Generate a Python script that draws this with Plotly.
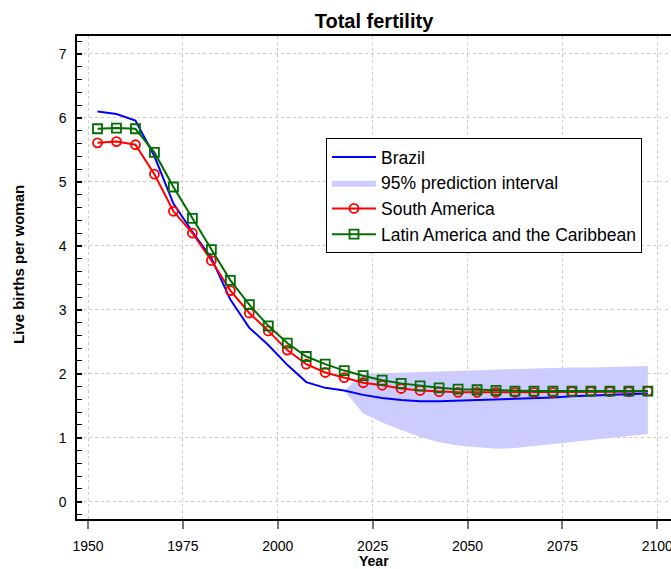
import plotly.graph_objects as go

years = [1952.5 + 5 * i for i in range(30)]

brazil = [6.10, 6.06, 5.96, 5.40, 4.66, 4.22, 3.81, 3.16, 2.72, 2.45, 2.14, 1.87,
          1.78, 1.74, 1.67, 1.62, 1.59, 1.57, 1.57, 1.58, 1.58, 1.59, 1.60, 1.62,
          1.63, 1.65, 1.66, 1.67, 1.68, 1.69]

south_america = [5.61, 5.63, 5.58, 5.12, 4.54, 4.20, 3.77, 3.30, 2.95, 2.67, 2.37, 2.15,
                 2.02, 1.94, 1.86, 1.82, 1.77, 1.74, 1.72, 1.71, 1.71, 1.71, 1.71, 1.71,
                 1.71, 1.72, 1.72, 1.72, 1.72, 1.73]

latin_america = [5.83, 5.84, 5.83, 5.46, 4.92, 4.43, 3.94, 3.46, 3.08, 2.75, 2.48, 2.27,
                 2.15, 2.05, 1.97, 1.90, 1.85, 1.81, 1.78, 1.76, 1.75, 1.74, 1.73, 1.73,
                 1.73, 1.73, 1.73, 1.73, 1.73, 1.73]

pi_years = [2017.5 + 5 * i for i in range(17)]
pi_upper = [1.74, 2.00, 2.01, 2.02, 2.03, 2.04, 2.05, 2.05, 2.06, 2.07, 2.08, 2.09,
            2.10, 2.10, 2.11, 2.12, 2.12]
pi_lower = [1.74, 1.38, 1.24, 1.12, 1.01, 0.93, 0.88, 0.85, 0.83, 0.84, 0.87, 0.90,
            0.94, 0.97, 1.00, 1.03, 1.06]

x_ticks = [1950, 1975, 2000, 2025, 2050, 2075, 2100]
y_ticks = [0, 1, 2, 3, 4, 5, 6, 7]

FONT = "Liberation Sans, Arial, sans-serif"

fig = go.Figure()

fig.add_trace(go.Scatter(
    x=pi_years + pi_years[::-1], y=pi_upper + pi_lower[::-1],
    fill="toself", fillcolor="rgba(204,204,255,1)", mode="lines",
    line=dict(width=0, color="rgba(204,204,255,1)"),
    name="95% prediction interval", legendrank=2, hoverinfo="skip"))

fig.add_trace(go.Scatter(
    x=years, y=brazil, mode="lines", name="Brazil",
    line=dict(color="#0000ff", width=2), legendrank=1))

fig.add_trace(go.Scatter(
    x=years, y=south_america, mode="lines+markers", name="South America",
    line=dict(color="#ff0000", width=2),
    marker=dict(symbol="circle-open", size=9, color="#ff0000", line=dict(width=1.8)),
    legendrank=3))

fig.add_trace(go.Scatter(
    x=years, y=latin_america, mode="lines+markers", name="Latin America and the Caribbean",
    line=dict(color="#006e00", width=2),
    marker=dict(symbol="square-open", size=9, color="#006e00", line=dict(width=1.8)),
    legendrank=4))

fig.update_layout(
    width=671, height=569,
    margin=dict(l=77, r=0, t=36, b=50, autoexpand=False),
    paper_bgcolor="white", plot_bgcolor="white",
    font=dict(family=FONT, size=14, color="black"),
    title=dict(text="<b>Total fertility</b>", x=0.5, xref="paper", xanchor="center",
               y=1 - 21 / 569, yref="container", yanchor="middle",
               font=dict(size=20, family=FONT)),
    showlegend=True,
    legend=dict(x=0.4192, y=0.7888, xanchor="left", yanchor="top",
                bordercolor="black", borderwidth=1, bgcolor="white",
                font=dict(size=17.5, family=FONT), tracegroupgap=0,
                itemwidth=44),
    xaxis=dict(range=[1947.1, 2103.6], tickvals=x_ticks, automargin=False,
               showline=True, linecolor="black", linewidth=2, mirror=True,
               ticks="outside", ticklen=8, tickcolor="#777", tickwidth=2,
               ticklabelstandoff=5, ticklabeloverflow="allow",
               showgrid=True, gridcolor="#cccccc", griddash="dot", gridwidth=1,
               zeroline=False),
    yaxis=dict(range=[-0.27, 7.28], tickvals=y_ticks, automargin=False,
               showline=True, linecolor="black", linewidth=1.5,
               ticks="inside", ticklen=5, tickcolor="black", tickwidth=1.5,
               ticklabelstandoff=6,
               minor=dict(dtick=0.2, ticks="inside", ticklen=5, tickcolor="black",
                          tickwidth=1.2, showgrid=False),
               showgrid=True, gridcolor="#cccccc", griddash="dot", gridwidth=1,
               zeroline=False),
    annotations=[
        dict(text="<b>Live births per woman</b>", textangle=-90,
             xref="paper", yref="paper", x=(18 - 77) / 594, y=(519 - 265) / 483,
             xanchor="center", yanchor="middle", showarrow=False,
             font=dict(size=15, family=FONT)),
        dict(text="<b>Year</b>", xref="paper", yref="paper",
             x=0.5, y=(519 - 561) / 483, xanchor="center", yanchor="middle",
             showarrow=False, font=dict(size=14, family=FONT)),
    ],
)

fig.write_html("out.html", config={"displayModeBar": False},
               post_script="document.body.style.margin='0px';document.body.style.overflow='hidden';")
